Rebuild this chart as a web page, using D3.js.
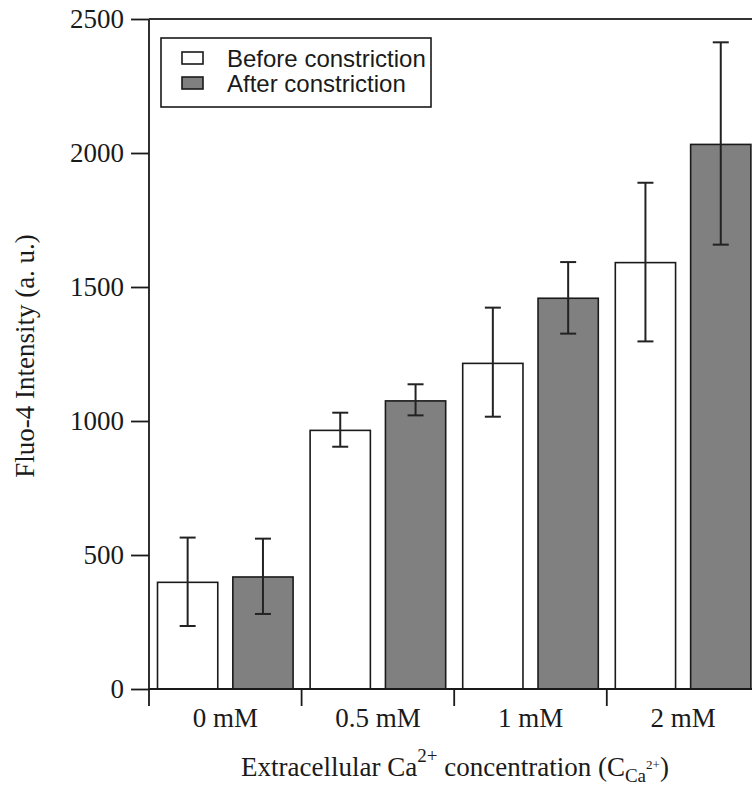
<!DOCTYPE html>
<html>
<head>
<meta charset="utf-8">
<script src="https://cdn.jsdelivr.net/npm/d3@7"></script>
<style>
  body { margin: 0; background: #fff; }
  svg { display: block; }
  text { fill: #1a1a1a; }
</style>
</head>
<body>
<div id="chart"></div>
<script>
// data
var categories = ["0 mM", "0.5 mM", "1 mM", "2 mM"];
var seriesNames = ["Before constriction", "After constriction"];
var beforeMean = [398, 965, 1215, 1591];
var beforeLow  = [235, 904, 1016, 1297];
var beforeHigh = [565, 1031, 1423, 1889];
var afterMean  = [418, 1075, 1458, 2032];
var afterLow   = [280, 1021, 1326, 1658];
var afterHigh  = [561, 1137, 1593, 2413];
var yTicks = [0, 500, 1000, 1500, 2000, 2500];

var width = 752, height = 787;
var plotLeft = 149, plotTop = 19, plotBottom = 689;
var groupW = 152.6;

var svg = d3.select("#chart").append("svg")
    .attr("width", width)
    .attr("height", height);

var y = d3.scaleLinear().domain([0, 2500]).range([plotBottom, plotTop]);

var x = d3.scaleBand()
    .domain(categories)
    .range([plotLeft, plotLeft + groupW * categories.length])
    .paddingInner(0).paddingOuter(0);

var xs = d3.scaleBand()
    .domain(seriesNames)
    .range([0, x.bandwidth()])
    .paddingInner(0.2)
    .paddingOuter(0.113);

var fills = { "Before constriction": "#ffffff", "After constriction": "#808080" };
var ink = "#1a1a1a";

// rows for drawing
var rows = [];
categories.forEach(function (c, i) {
    rows.push({ cat: c, s: seriesNames[0], v: beforeMean[i], lo: beforeLow[i], hi: beforeHigh[i] });
    rows.push({ cat: c, s: seriesNames[1], v: afterMean[i], lo: afterLow[i], hi: afterHigh[i] });
});

// bars
svg.append("g").selectAll("rect")
    .data(rows)
    .enter().append("rect")
    .attr("x", function (d) { return x(d.cat) + xs(d.s); })
    .attr("y", function (d) { return y(d.v); })
    .attr("width", xs.bandwidth())
    .attr("height", function (d) { return y(0) - y(d.v); })
    .attr("fill", function (d) { return fills[d.s]; })
    .attr("stroke", ink)
    .attr("stroke-width", 1.6);

// error bars
var eb = svg.append("g").attr("stroke", "#222").attr("stroke-width", 2).attr("fill", "none");
var cap = 8;
rows.forEach(function (d) {
    var cx = x(d.cat) + xs(d.s) + xs.bandwidth() / 2;
    eb.append("line").attr("x1", cx).attr("x2", cx).attr("y1", y(d.lo)).attr("y2", y(d.hi));
    eb.append("line").attr("x1", cx - cap).attr("x2", cx + cap).attr("y1", y(d.lo)).attr("y2", y(d.lo));
    eb.append("line").attr("x1", cx - cap).attr("x2", cx + cap).attr("y1", y(d.hi)).attr("y2", y(d.hi));
});

// y axis
var yAxis = svg.append("g")
    .attr("transform", "translate(" + plotLeft + ",0)")
    .call(d3.axisLeft(y).tickValues(yTicks).tickFormat(d3.format("d")).tickSize(18).tickPadding(7));
yAxis.select(".domain").remove();
yAxis.selectAll(".tick line").attr("stroke", ink).attr("stroke-width", 1.8);
yAxis.selectAll(".tick text")
    .attr("font-family", "Liberation Serif, Times New Roman, serif")
    .attr("font-size", 27)
    .attr("fill", ink);

// axis frame lines
svg.append("line").attr("x1", plotLeft).attr("x2", plotLeft).attr("y1", plotTop).attr("y2", plotBottom + 17)
    .attr("stroke", ink).attr("stroke-width", 1.8);
svg.append("line").attr("x1", plotLeft).attr("x2", width).attr("y1", plotTop).attr("y2", plotTop)
    .attr("stroke", "#333").attr("stroke-width", 2.2);
svg.append("line").attr("x1", plotLeft).attr("x2", width).attr("y1", plotBottom).attr("y2", plotBottom)
    .attr("stroke", ink).attr("stroke-width", 1.8);

// category boundary ticks
svg.append("g").selectAll("line")
    .data(categories.slice(1))
    .enter().append("line")
    .attr("x1", function (d) { return x(d); })
    .attr("x2", function (d) { return x(d); })
    .attr("y1", plotBottom)
    .attr("y2", plotBottom + 17)
    .attr("stroke", ink).attr("stroke-width", 1.8);

// category labels
var xAxis = svg.append("g")
    .attr("transform", "translate(0," + plotBottom + ")")
    .call(d3.axisBottom(x).tickSize(0).tickPadding(19));
xAxis.select(".domain").remove();
xAxis.selectAll(".tick text")
    .attr("font-family", "Liberation Serif, Times New Roman, serif")
    .attr("font-size", 27)
    .attr("fill", ink);

// y title
svg.append("text")
    .attr("transform", "translate(34,356) rotate(-90)")
    .attr("text-anchor", "middle")
    .attr("font-family", "Liberation Serif, Times New Roman, serif")
    .attr("font-size", 27)
    .text("Fluo-4 Intensity (a. u.)");

// x title
var xt = svg.append("text")
    .attr("x", 455)
    .attr("y", 776)
    .attr("text-anchor", "middle")
    .attr("font-family", "Liberation Serif, Times New Roman, serif")
    .attr("font-size", 27);
xt.append("tspan").text("Extracellular Ca");
xt.append("tspan").attr("font-size", 19).attr("dy", -14).text("2+");
xt.append("tspan").attr("dy", 14).text(" concentration (C");
xt.append("tspan").attr("font-size", 19).attr("dy", 6).text("Ca");
xt.append("tspan").attr("font-size", 13).attr("dy", -13).text("2+");
xt.append("tspan").attr("dy", 7).text(")");

// legend
var lg = svg.append("g");
lg.append("rect")
    .attr("x", 161).attr("y", 38).attr("width", 270).attr("height", 69)
    .attr("fill", "#fff").attr("stroke", ink).attr("stroke-width", 1.6);
seriesNames.forEach(function (s, i) {
    var cy = 58 + i * 25;
    lg.append("rect")
        .attr("x", 182).attr("y", cy - 6).attr("width", 21).attr("height", 12)
        .attr("fill", fills[s]).attr("stroke", ink).attr("stroke-width", 1.6);
    lg.append("text")
        .attr("x", 227).attr("y", cy)
        .attr("dy", "0.36em")
        .attr("font-family", "Liberation Sans, Arial, sans-serif")
        .attr("font-size", 24)
        .text(s);
});
</script>
</body>
</html>
